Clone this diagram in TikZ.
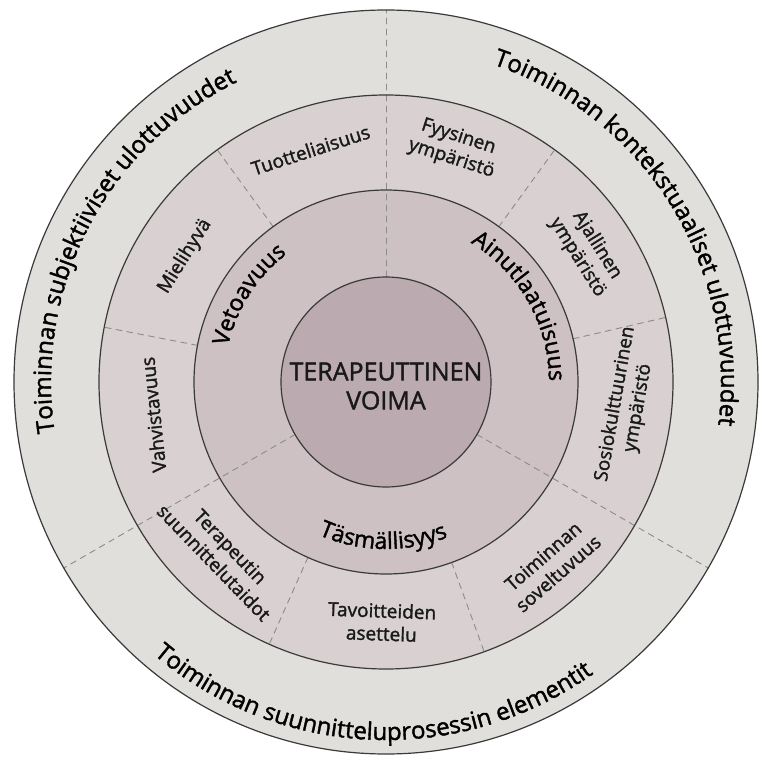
\documentclass[tikz,border=0pt]{standalone}
\usepackage{fontspec}
\setmainfont{Open Sans}[FakeBold=1.6]
\usetikzlibrary{decorations.text}

\definecolor{outerfill}{HTML}{E1DFDC}
\definecolor{midfill}{HTML}{D8D0D1}
\definecolor{innerfill}{HTML}{CDC1C4}
\definecolor{corefill}{HTML}{BBABB0}
\definecolor{rimgrey}{HTML}{3A3A3A}

\newcommand{\outerfont}{\fontsize{24}{28}\selectfont}
\newcommand{\innerfont}{\fontsize{23}{27}\selectfont}
\newcommand{\ringfont}{\fontsize{19}{23}\selectfont}

\begin{document}
\begin{tikzpicture}[x=1pt, y=1pt, line cap=round, line join=round,
    rim/.style={draw=rimgrey, line width=1.2pt},
    divider/.style={draw=black!45, line width=0.9pt, dash pattern=on 6pt off 5pt},
    ringlabel/.style={font=\ringfont, align=center, inner sep=0pt, text=black!90},
    arctext/.style={decorate, decoration={text along path, text align=center, text={#1}}}]
  \useasboundingbox (-386,-382) rectangle (373,382);
  \coordinate (o) at (0,0);
  % discs
  \fill[outerfill] (o) circle (372);
  \fill[midfill] (o) circle (287);
  \fill[innerfill] (o) circle (192);
  \fill[corefill] (o) circle (105);
  % sector borders
  \foreach \a in {90, 210, 330}
    \draw[divider] (\a:105) -- (\a:372);
  \foreach \a in {13, 54, 126, 169, 246, 290}
    \draw[divider] (\a:192) -- (\a:287);
  \foreach \r in {372, 287, 192, 105}
    \draw[rim] (o) circle (\r);
  % outer ring
  \path[arctext={|\outerfont|Toiminnan subjektiiviset ulottuvuudet}]
    (200:335) arc[start angle=200, end angle=105, radius=335];
  \path[arctext={|\outerfont|Toiminnan kontekstuaaliset ulottuvuudet}]
    (80:335) arc[start angle=80, end angle=-16, radius=335];
  \path[arctext={|\outerfont|Toiminnan suunnitteluprosessin elementit}]
    (220:358) arc[start angle=220, end angle=315, radius=358];
  % middle ring
  \foreach \name/\ang/\rad/\rot/\txt in {
      tuot/108/244/18/Tuotteliaisuus,
      fyys/73.6/244/-18/{Fyysinen\\ympäristö},
      ajal/33/240/-58/{Ajallinen\\ympäristö},
      sosio/-5.7/242/80/{Sosiokulttuurinen\\ympäristö},
      sovel/-48/246/41/{Toiminnan\\soveltuvuus},
      tavo/269/240/-2/{Tavoitteiden\\asettelu},
      tera/226.5/238/-46/{Terapeutin\\suunnittelutaidot},
      vahv/188/235/96/Vahvistavuus,
      miel/148/237/58/Mielihyvä}
    \node[ringlabel, rotate=\rot] (\name) at (\ang:\rad) {\txt};
  % inner ring
  \path[arctext={|\innerfont|Vetoavuus}]
    (180:162) arc[start angle=180, end angle=115, radius=162];
  \path[arctext={|\innerfont|Ainutlaatuisuus}]
    (80:163) arc[start angle=80, end angle=-21, radius=163];
  \path[arctext={|\innerfont|Täsmällisyys}]
    (225:167) arc[start angle=225, end angle=313, radius=167];
  % centre
  \node[font=\fontsize{25}{29}\selectfont, align=center, text=black!90] (core) at (0,-4) {TERAPEUTTINEN\\VOIMA};
\end{tikzpicture}
\end{document}
